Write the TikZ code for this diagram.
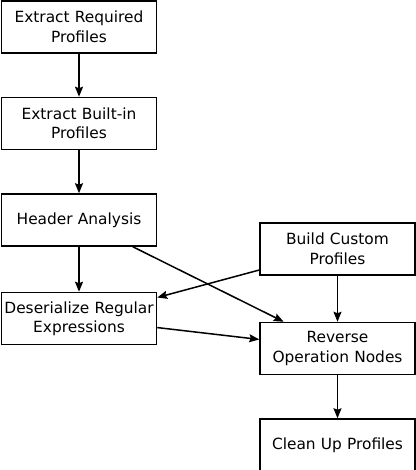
\documentclass[tikz,border=0pt]{standalone}
\usepackage{fontspec}
\setmainfont{DejaVu Sans}
\usepackage{tikz}
\usetikzlibrary{arrows.meta, positioning}

\begin{document}
\begin{tikzpicture}[
    x=1pt, y=1pt,
    node distance = 43pt and 105pt,
    stepbox/.style = {rectangle, draw=black, line width=1.5pt, fill=white, text width=150pt, align=center, minimum width=155pt, minimum height=52pt, inner sep=0pt, font=\fontsize{15.4}{19.5}\selectfont},
    flow/.style = {draw, line width=1.5pt, -{Stealth[length=10pt, width=8pt, inset=1.5pt]}}
]
    \useasboundingbox (0,0) rectangle (415,-470);
    \node [stepbox] (required) at (79,-27) {Extract Required\\Profiles};
    \node [stepbox, below=of required] (builtin) {Extract Built-in\\Profiles};
    \node [stepbox, below=of builtin] (header) {Header Analysis};
    \node [stepbox, below=45pt of header] (deser) {Deserialize Regular\\Expressions};
    \node [stepbox] (custom) at (337.5,-249) {Build Custom\\Profiles};
    \node [stepbox, below=46pt of custom] (reverse) {Reverse\\Operation Nodes};
    \node [stepbox, below=of reverse] (cleanup) {Clean Up Profiles};

    \path [flow] (required) -- (builtin);
    \path [flow] (builtin) -- (header);
    \path [flow] (header) -- (deser);
    \path [flow] (header) -- (reverse);
    \path [flow] (custom) -- (deser);
    \path [flow] (custom) -- (reverse);
    \path [flow] (deser) -- (reverse);
    \path [flow] (reverse) -- (cleanup);
\end{tikzpicture}
\end{document}
